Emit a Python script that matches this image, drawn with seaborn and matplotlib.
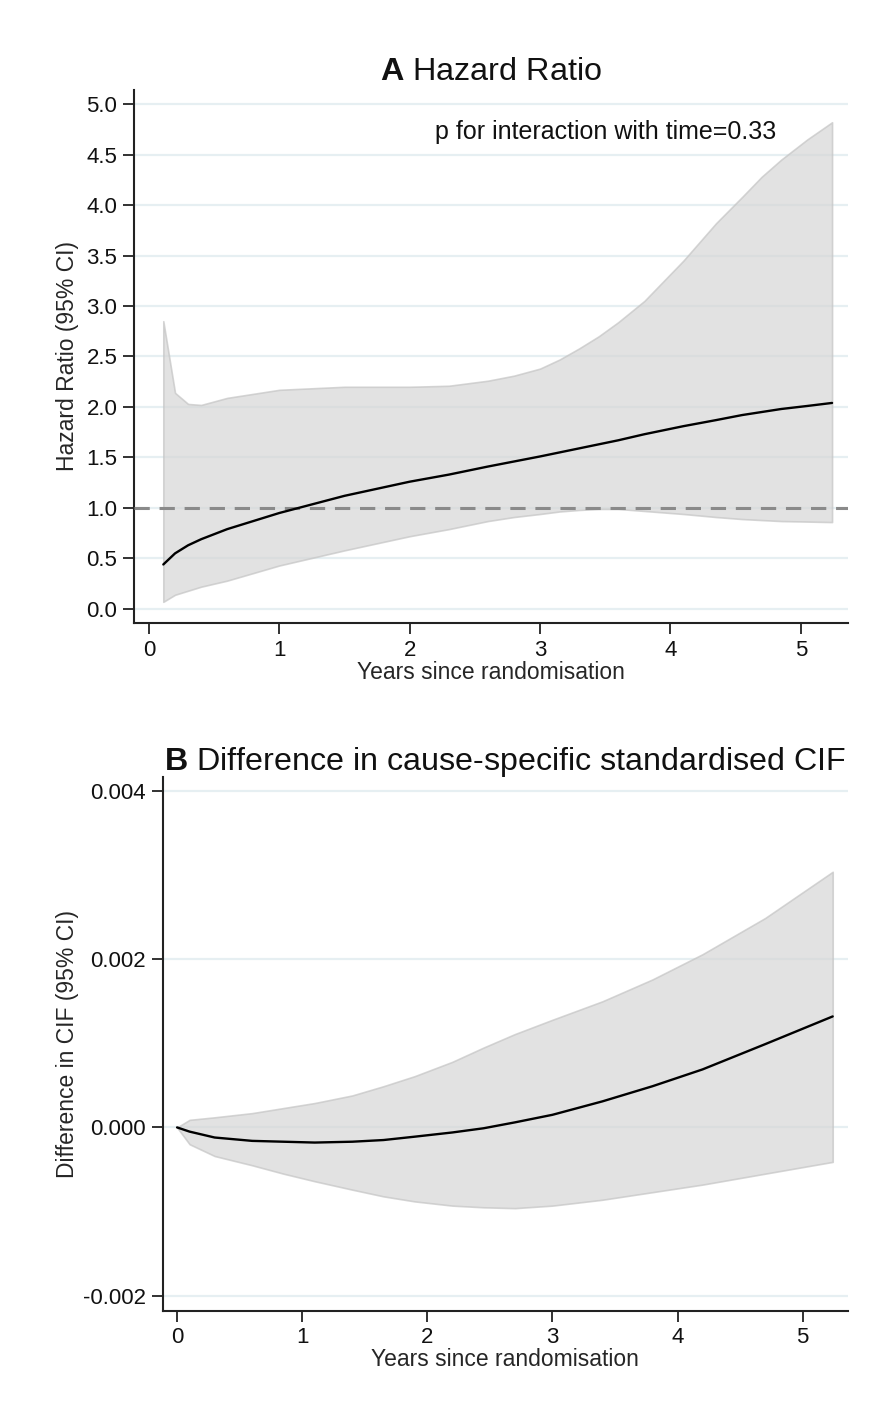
import numpy as np
import pandas as pd
import matplotlib
matplotlib.use("Agg")
import matplotlib.pyplot as plt
import seaborn as sns

# ---------------- Data ----------------
# Panel A: time-varying hazard ratio
years_a = [0.11, 0.2, 0.3, 0.4, 0.6, 1.0, 1.5, 2.0, 2.3, 2.6, 2.8, 3.0, 3.15, 3.3, 3.45,
           3.6, 3.8, 4.1, 4.35, 4.55, 4.7, 4.85, 5.05, 5.24]
hr = [0.44, 0.55, 0.63, 0.69, 0.79, 0.95, 1.12, 1.26, 1.33, 1.41, 1.46, 1.51, 1.55,
      1.59, 1.63, 1.67, 1.73, 1.81, 1.87, 1.92, 1.95, 1.98, 2.01, 2.04]
hr_upper = [2.85, 2.14, 2.03, 2.02, 2.09, 2.17, 2.20, 2.20, 2.21, 2.26, 2.31, 2.38,
            2.47, 2.58, 2.70, 2.84, 3.05, 3.45, 3.82, 4.08, 4.28, 4.45, 4.65, 4.82]
hr_lower = [0.07, 0.14, 0.18, 0.22, 0.28, 0.43, 0.58, 0.72, 0.79, 0.87, 0.91, 0.94,
            0.965, 0.98, 0.99, 0.99, 0.97, 0.94, 0.91, 0.89, 0.88, 0.87, 0.865, 0.86]

# Panel B: difference in cause-specific standardised CIF
years_b = [0.0, 0.1, 0.3, 0.6, 0.85, 1.1, 1.4, 1.65, 1.9, 2.2, 2.45, 2.7, 3.0, 3.4,
           3.8, 4.2, 4.7, 5.24]
cif_diff = [0.0, -0.00005, -0.00012, -0.00016, -0.00017, -0.00018, -0.00017,
            -0.00015, -0.00011, -0.00006, -0.00001, 0.00006, 0.00015, 0.00031,
            0.00049, 0.00069, 0.00099, 0.00132]
cif_upper = [0.0, 0.00009, 0.00012, 0.00017, 0.00023, 0.00029, 0.00038, 0.00049,
             0.00061, 0.00078, 0.00095, 0.00111, 0.00128, 0.00150, 0.00176,
             0.00206, 0.00249, 0.00304]
cif_lower = [0.0, -0.0002, -0.00034, -0.00045, -0.00055, -0.00064, -0.00074,
             -0.00082, -0.00088, -0.00093, -0.00095, -0.00096, -0.00093, -0.00086,
             -0.00077, -0.00068, -0.00055, -0.00041]

x_ticks = [0, 1, 2, 3, 4, 5]
y_ticks_a = [0.0, 0.5, 1.0, 1.5, 2.0, 2.5, 3.0, 3.5, 4.0, 4.5, 5.0]
y_ticks_b = [-0.002, 0.0, 0.002, 0.004]

title_a = r"$\mathbf{A}$ Hazard Ratio"
title_b = r"$\mathbf{B}$ Difference in cause-specific standardised CIF"
ylabel_a = "Hazard Ratio (95% CI)"
ylabel_b = "Difference in CIF (95% CI)"
xlabel = "Years since randomisation"
annot = "p for interaction with time=0.33"

# ---------------- Style ----------------
sns.set_theme(style="white")
plt.rcParams["font.family"] = ["Liberation Sans", "DejaVu Sans"]
plt.rcParams["mathtext.fontset"] = "custom"
plt.rcParams["mathtext.rm"] = "Liberation Sans"
plt.rcParams["mathtext.bf"] = "Liberation Sans:bold"
plt.rcParams["axes.unicode_minus"] = False

GRID = "#e6eff2"
FILL = "#d6d6d6"
EDGE = "#c4c4c4"
SPINE = "#222222"

fig = plt.figure(figsize=(8.78, 14.10), dpi=100)
ax_a = fig.add_axes([0.1526, 0.5582, 0.9655 - 0.1526, 0.9362 - 0.5582])
ax_b = fig.add_axes([0.1853, 0.0704, 0.9655 - 0.1853, 0.4491 - 0.0704])

df_a = pd.DataFrame({"years": years_a, "hr": hr, "lo": hr_lower, "hi": hr_upper})
df_b = pd.DataFrame({"years": years_b, "d": cif_diff, "lo": cif_lower, "hi": cif_upper})


def style_axes(ax, yticks, ylim, fmt):
    ax.set_xlim(-0.115, 5.36)
    ax.set_ylim(*ylim)
    ax.set_xticks(x_ticks)
    ax.set_yticks(yticks)
    ax.set_yticklabels([fmt.format(v) for v in yticks])
    ax.set_xticklabels([str(v) for v in x_ticks])
    for v in yticks:
        ax.axhline(v, color=GRID, lw=1.6, zorder=0)
    for s in ["top", "right"]:
        ax.spines[s].set_visible(False)
    for s in ["left", "bottom"]:
        ax.spines[s].set_color(SPINE)
        ax.spines[s].set_linewidth(1.5)
    ax.tick_params(axis="both", which="major", length=8, width=1.3, color=SPINE,
                   labelsize=16, labelcolor="#111111", pad=4, left=True, bottom=True)
    ax.set_facecolor("white")


# Panel A
ax = ax_a
ax.fill_between(df_a["years"], df_a["lo"], df_a["hi"], facecolor=FILL, alpha=0.7,
                edgecolor=EDGE, linewidth=1.2, zorder=2)
ax.axhline(1.0, color="#8a8a8a", lw=2.2, ls=(0, (5, 3.2)), zorder=3)
sns.lineplot(data=df_a, x="years", y="hr", ax=ax, color="black", lw=1.7, zorder=4)
style_axes(ax, y_ticks_a, (-0.139, 5.14), "{:.1f}")
ax.set_title(title_a, fontsize=23.3, pad=7, color="#111111")
ax.set_ylabel(ylabel_a, fontsize=16.5)
ax.yaxis.set_label_coords(-0.077, 0.5)
ax.set_xlabel(xlabel, fontsize=16.5, labelpad=0)
ax.text(0.8996, 0.922, annot, transform=ax.transAxes, ha="right", va="center",
        fontsize=18, color="#111111")

# Panel B
ax = ax_b
ax.fill_between(df_b["years"], df_b["lo"], df_b["hi"], facecolor=FILL, alpha=0.7,
                edgecolor=EDGE, linewidth=1.2, zorder=2)
sns.lineplot(data=df_b, x="years", y="d", ax=ax, color="black", lw=1.7, zorder=4)
style_axes(ax, y_ticks_b, (-0.00218, 0.00417), "{:.3f}")
ax.set_title(title_b, fontsize=23.2, pad=5, color="#111111")
ax.set_ylabel(ylabel_b, fontsize=16.5)
ax.yaxis.set_label_coords(-0.122, 0.5)
ax.set_xlabel(xlabel, fontsize=16.5, labelpad=0)

fig.savefig("out.png", dpi=100, facecolor="white")
